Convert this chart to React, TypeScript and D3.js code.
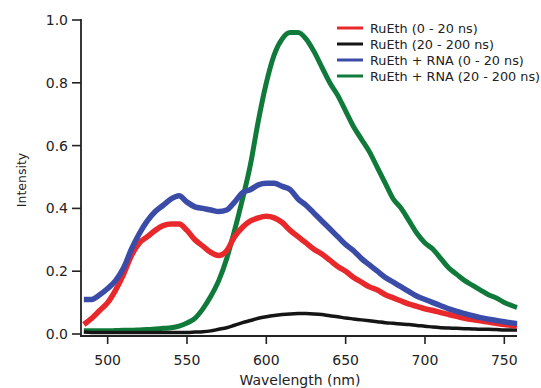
import React from "react";
import * as d3 from "d3";

const wavelengths = [485, 490, 495, 500, 505, 510, 515, 520, 525, 530, 535, 540, 545, 550, 555, 560, 565, 570, 575, 580, 585, 590, 595, 600, 605, 610, 615, 620, 625, 630, 635, 640, 645, 650, 655, 660, 665, 670, 675, 680, 685, 690, 695, 700, 705, 710, 715, 720, 725, 730, 735, 740, 745, 750, 755, 758];

const ruEthShort = [0.03, 0.05, 0.075, 0.10, 0.14, 0.19, 0.25, 0.29, 0.31, 0.33, 0.345, 0.35, 0.35, 0.33, 0.30, 0.28, 0.26, 0.25, 0.265, 0.31, 0.34, 0.36, 0.37, 0.375, 0.37, 0.355, 0.33, 0.31, 0.29, 0.27, 0.255, 0.235, 0.215, 0.20, 0.18, 0.165, 0.15, 0.14, 0.125, 0.115, 0.105, 0.095, 0.088, 0.08, 0.075, 0.068, 0.062, 0.056, 0.05, 0.046, 0.042, 0.038, 0.034, 0.03, 0.027, 0.025];

const ruEthLong = [0.006, 0.005, 0.005, 0.005, 0.005, 0.005, 0.005, 0.005, 0.005, 0.005, 0.005, 0.005, 0.005, 0.005, 0.006, 0.007, 0.01, 0.015, 0.02, 0.028, 0.036, 0.043, 0.05, 0.055, 0.059, 0.062, 0.064, 0.065, 0.065, 0.064, 0.062, 0.058, 0.055, 0.051, 0.048, 0.045, 0.042, 0.039, 0.036, 0.034, 0.032, 0.03, 0.027, 0.025, 0.022, 0.02, 0.019, 0.018, 0.017, 0.016, 0.015, 0.015, 0.014, 0.013, 0.013, 0.013];

const rnaShort = [0.11, 0.11, 0.125, 0.145, 0.17, 0.21, 0.27, 0.32, 0.36, 0.39, 0.41, 0.43, 0.44, 0.42, 0.405, 0.40, 0.395, 0.39, 0.395, 0.42, 0.45, 0.46, 0.475, 0.48, 0.48, 0.47, 0.46, 0.43, 0.41, 0.385, 0.36, 0.335, 0.31, 0.285, 0.265, 0.24, 0.22, 0.2, 0.18, 0.165, 0.15, 0.135, 0.12, 0.11, 0.1, 0.09, 0.08, 0.072, 0.065, 0.058, 0.052, 0.047, 0.043, 0.039, 0.035, 0.033];

const rnaLong = [0.01, 0.01, 0.01, 0.01, 0.011, 0.012, 0.012, 0.013, 0.014, 0.016, 0.018, 0.02, 0.025, 0.035, 0.05, 0.08, 0.12, 0.17, 0.24, 0.33, 0.43, 0.54, 0.68, 0.80, 0.89, 0.94, 0.96, 0.96, 0.94, 0.90, 0.85, 0.80, 0.76, 0.71, 0.66, 0.62, 0.58, 0.53, 0.48, 0.43, 0.40, 0.36, 0.32, 0.29, 0.27, 0.24, 0.21, 0.19, 0.17, 0.155, 0.14, 0.125, 0.115, 0.10, 0.09, 0.085];

const seriesNames = ["RuEth (0 - 20 ns)", "RuEth (20 - 200 ns)", "RuEth + RNA (0 - 20 ns)", "RuEth + RNA (20 - 200 ns)"];
const seriesValues = [ruEthShort, ruEthLong, rnaShort, rnaLong];
const seriesColors = ["#e8282b", "#151515", "#3a4ca8", "#107a3a"];
const drawOrder = [3, 1, 0, 2];

const xTicks = [500, 550, 600, 650, 700, 750];
const yTicks = [0, 0.2, 0.4, 0.6, 0.8, 1.0];

export default function App() {
  const W = 541, H = 388;
  const x = d3.scaleLinear().domain([483.2, 757.8]).range([81, 516.7]);
  const y = d3.scaleLinear().domain([0, 1]).range([334, 20]);
  const line = d3.line<number>().x((_, i) => x(wavelengths[i])).y((d) => y(d)).curve(d3.curveMonotoneX);
  const font = "'DejaVu Sans', Verdana, sans-serif";
  const axisColor = "#222";
  const widths = [5.5, 3.5, 5.5, 5];
  return (
    <svg width={W} height={H} style={{ position: "absolute", left: 0, top: 0, background: "#fff" }}>
      <rect x={0} y={0} width={W} height={H} fill="#fff" />
      {drawOrder.map((k) => (
        <path key={k} d={line(seriesValues[k]) || ""} fill="none" stroke={seriesColors[k]} strokeWidth={widths[k]} strokeLinejoin="round" />
      ))}
      <line x1={81} x2={81} y1={19} y2={336} stroke={axisColor} strokeWidth={1.8} />
      <line x1={80} x2={517} y1={336} y2={336} stroke={axisColor} strokeWidth={1.8} />
      {yTicks.map((t) => (
        <g key={t}>
          <line x1={72} x2={81} y1={y(t)} y2={y(t)} stroke={axisColor} strokeWidth={1.6} />
          <text x={68} y={y(t) + 5} textAnchor="end" fontFamily={font} fontSize={14} fill="#222">{t.toFixed(1)}</text>
        </g>
      ))}
      {xTicks.map((t) => (
        <g key={t}>
          <line x1={x(t)} x2={x(t)} y1={336} y2={344} stroke={axisColor} strokeWidth={1.6} />
          <text x={x(t)} y={365} textAnchor="middle" fontFamily={font} fontSize={14} fill="#222">{t}</text>
        </g>
      ))}
      <text x={300} y={385} textAnchor="middle" fontFamily={font} fontSize={14} fill="#222">Wavelength (nm)</text>
      <text transform="translate(26,180) rotate(-90)" textAnchor="middle" fontFamily={font} fontSize={12.5} fill="#222">Intensity</text>
      {seriesNames.map((name, i) => (
        <g key={name}>
          <line x1={337} x2={363} y1={28 + i * 16} y2={28 + i * 16} stroke={seriesColors[i]} strokeWidth={3} />
          <text x={370} y={32.5 + i * 16} fontFamily={font} fontSize={12.8} fill="#222">{name}</text>
        </g>
      ))}
    </svg>
  );
}
